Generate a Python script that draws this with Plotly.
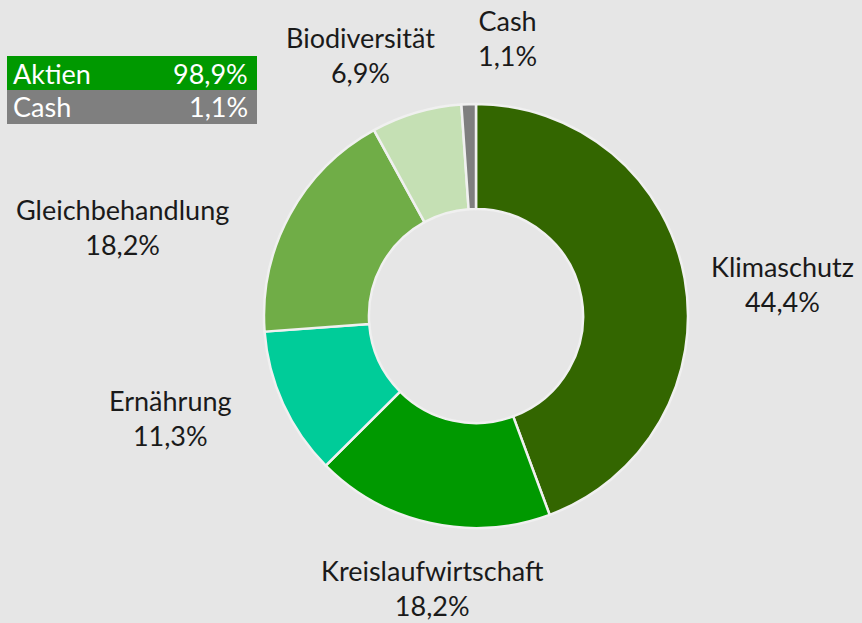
import plotly.graph_objects as go

# ---- data ----
categories = ["Klimaschutz", "Kreislaufwirtschaft", "Ernährung", "Gleichbehandlung", "Biodiversität", "Cash"]
values = [44.4, 18.2, 11.3, 18.2, 6.9, 1.1]
alloc_labels = ["Aktien", "Cash"]
alloc_values = [98.9, 1.1]

# ---- style ----
slice_colors = ["#336600", "#009900", "#00CC99", "#70AD47", "#C5E0B4", "#7F7F7F"]
alloc_colors = ["#009900", "#7F7F7F"]
bg = "#E6E6E6"
FONT = "Lato, 'Open Sans', sans-serif"
FS = 27
W, H = 862, 623
# label centres in pixels (style only)
label_pos = [(782, 284), (433, 588), (170, 418), (123, 227), (360, 55), (508, 38)]

def fmt(v):
    return f"{v:.1f}".replace(".", ",") + "%"

fig = go.Figure()
cx, cy, r = 476, 316, 212
fig.add_trace(go.Pie(
    labels=categories, values=values, sort=False, direction="clockwise", rotation=0,
    hole=0.505, marker=dict(colors=slice_colors, line=dict(color="#F0F0F0", width=2.5)),
    textinfo="none", hoverinfo="label+percent", showlegend=False,
    domain=dict(x=[(cx - r) / W, (cx + r) / W], y=[1 - (cy + r) / H, 1 - (cy - r) / H]),
))

annotations = []
for (lab, v, (px, py)) in zip(categories, values, label_pos):
    annotations.append(dict(
        x=px / W, y=1 - py / H, xref="paper", yref="paper", xanchor="center", yanchor="middle",
        text=f"{lab}<br>{fmt(v)}", showarrow=False, align="center",
        font=dict(family=FONT, size=FS, color="#1A1A1A"),
    ))

shapes = []
box_x0, box_x1 = 7, 257
box_tops = [56, 90]
box_h = 34
for (lab, v, col, top) in zip(alloc_labels, alloc_values, alloc_colors, box_tops):
    shapes.append(dict(type="rect", xref="paper", yref="paper",
                       x0=box_x0 / W, x1=box_x1 / W, y0=1 - (top + box_h) / H, y1=1 - top / H,
                       fillcolor=col, line=dict(width=0), layer="below"))
    ymid = 1 - (top + box_h / 2) / H
    annotations.append(dict(x=(box_x0 + 4) / W, y=ymid, xref="paper", yref="paper",
                            xanchor="left", yanchor="middle", text=lab, showarrow=False,
                            font=dict(family=FONT, size=FS, color="white")))
    annotations.append(dict(x=(box_x1 - 7) / W, y=ymid, xref="paper", yref="paper",
                            xanchor="right", yanchor="middle", text=fmt(v), showarrow=False,
                            font=dict(family=FONT, size=FS, color="white")))

fig.update_layout(
    width=W, height=H, margin=dict(l=0, r=0, t=0, b=0),
    paper_bgcolor=bg, plot_bgcolor=bg,
    annotations=annotations, shapes=shapes,
    font=dict(family=FONT),
)
fig.write_html("out.html", config={"displayModeBar": False},
               post_script="document.body.style.margin='0';document.body.style.background='#E6E6E6';")
